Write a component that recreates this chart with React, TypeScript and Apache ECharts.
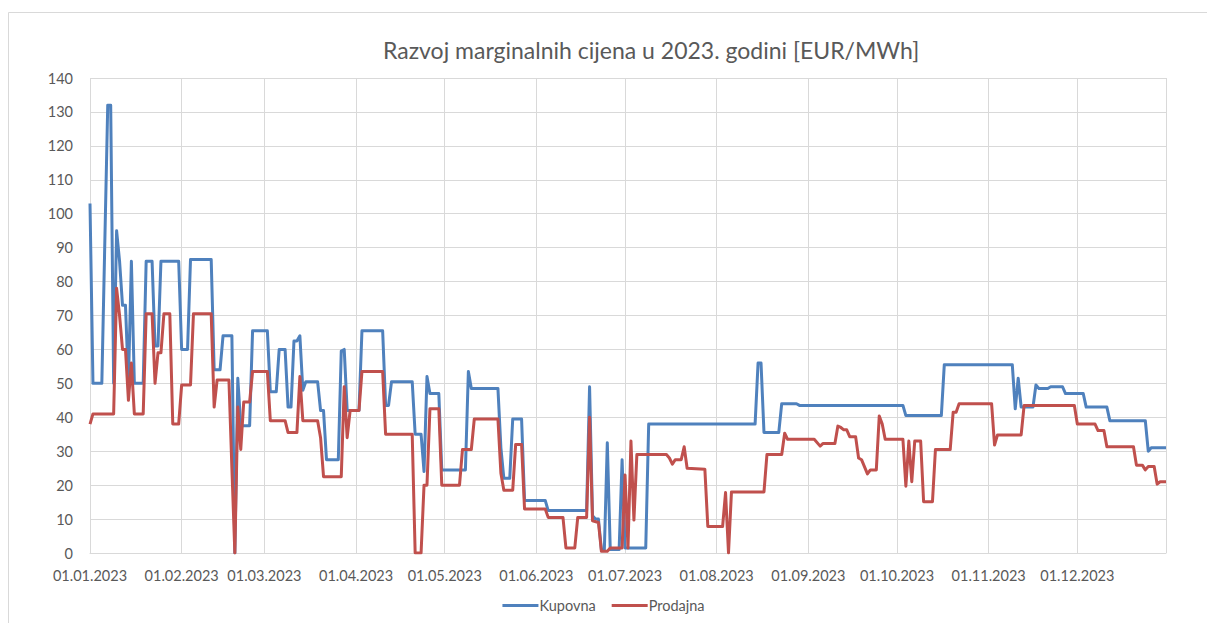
import React, { useEffect, useRef } from "react";
import * as echarts from "echarts";

const TITLE = "Razvoj marginalnih cijena u 2023. godini [EUR/MWh]";
const SERIES_NAMES = ["Kupovna", "Prodajna"];
const YEAR_START = Date.UTC(2023, 0, 1);
const YEAR_END = Date.UTC(2023, 11, 31);
const DAY_MS = 86400000;

// [day of year (0 = 01.01.2023), price EUR/MWh] at each change of the daily series
const kupovna: [number, number][] = [
  [0, 103], [1, 50], [4, 50], [6, 132], [7, 132], [8, 50], [9, 95], [10, 86], [11, 73], [12, 73],
  [13, 50], [14, 86], [15, 50], [18, 50], [19, 86], [21, 86], [22, 61], [23, 61], [24, 86], [30, 86],
  [31, 60], [33, 60], [34, 86.5], [41, 86.5], [42, 54], [44, 54], [45, 64], [48, 64], [49, 0], [50, 51.5],
  [51, 37.5], [54, 37.5], [55, 65.5], [60, 65.5], [61, 47.5], [63, 47.5], [64, 60], [66, 60], [67, 43], [68, 43],
  [69, 62.5], [70, 62.5], [71, 64], [72, 48], [73, 50.5], [77, 50.5], [78, 42], [79, 42], [80, 27.5], [84, 27.5],
  [85, 59.5], [86, 60], [87, 42], [91, 42], [92, 65.5], [99, 65.5], [100, 43.5], [101, 43.5], [102, 50.5], [109, 50.5],
  [110, 35], [112, 35], [113, 24], [114, 52], [115, 47], [118, 47], [119, 24.5], [127, 24.5], [128, 53.5], [129, 48.5],
  [138, 48.5], [139, 31], [140, 22], [142, 22], [143, 39.5], [146, 39.5], [147, 15.5], [154, 15.5], [155, 12.5], [168, 12.5],
  [169, 49], [170, 11], [171, 10], [172, 10], [173, 1], [174, 1], [175, 32.5], [176, 1], [179, 1], [180, 27.5],
  [181, 1.5], [188, 1.5], [189, 38], [225, 38], [226, 56], [227, 56], [228, 35.5], [233, 35.5], [234, 44], [239, 44],
  [240, 43.5], [275, 43.5], [276, 40.5], [288, 40.5], [289, 55.5], [312, 55.5], [313, 42.5], [314, 51.5], [315, 43], [319, 43],
  [320, 49.5], [321, 48.5], [324, 48.5], [325, 49], [329, 49], [330, 47], [336, 47], [337, 43], [344, 43], [345, 39],
  [357, 39], [358, 30], [359, 31], [364, 31],
];

const prodajna: [number, number][] = [
  [0, 38], [1, 41], [8, 41], [9, 78], [10, 70], [11, 60], [12, 60], [13, 45], [14, 56], [15, 41],
  [18, 41], [19, 70.5], [21, 70.5], [22, 50], [23, 59], [24, 59], [25, 70.5], [27, 70.5], [28, 38], [30, 38],
  [31, 49.5], [34, 49.5], [35, 70.5], [41, 70.5], [42, 43], [43, 51], [47, 51], [48, 25], [49, 0], [50, 43],
  [51, 30.5], [52, 44.5], [54, 44.5], [55, 53.5], [60, 53.5], [61, 39], [66, 39], [67, 35.5], [70, 35.5], [71, 52],
  [72, 39], [77, 39], [78, 34], [79, 22.5], [85, 22.5], [86, 49], [87, 34], [88, 42], [91, 42], [92, 53.5],
  [99, 53.5], [100, 35], [109, 35], [110, 0], [112, 0], [113, 20], [114, 20], [115, 42.5], [118, 42.5], [119, 20],
  [125, 20], [126, 30.5], [129, 30.5], [130, 39.5], [138, 39.5], [139, 23.5], [140, 18.5], [143, 18.5], [144, 32], [146, 32],
  [147, 13], [154, 13], [155, 10.5], [160, 10.5], [161, 1.5], [164, 1.5], [165, 10.5], [168, 10.5], [169, 40], [170, 9.5],
  [172, 9], [173, 0.5], [175, 0.5], [176, 1.5], [180, 1.5], [181, 23], [182, 1.5], [183, 33], [184, 9.7], [185, 29],
  [195, 29], [196, 28], [197, 26.2], [198, 27.5], [200, 27.5], [201, 31.3], [202, 25], [208, 24.7], [209, 7.8], [214, 7.8],
  [215, 17.8], [216, 0], [217, 18], [228, 18], [229, 29], [234, 29], [235, 35.3], [236, 33.5], [245, 33.5], [247, 31.5],
  [248, 32.3], [252, 32.3], [253, 37.4], [254, 37], [255, 36.3], [256, 36.3], [257, 34.3], [259, 34.3], [260, 28], [261, 27.5],
  [263, 23.3], [264, 24.5], [266, 24.5], [267, 40.4], [268, 38], [269, 33.5], [275, 33.5], [276, 19.7], [277, 33], [278, 21],
  [279, 33], [281, 33], [282, 15.1], [285, 15.1], [286, 30.5], [291, 30.5], [292, 41.5], [293, 41.5], [294, 44], [305, 44],
  [306, 31.8], [307, 34.8], [315, 34.8], [316, 43.5], [333, 43.5], [334, 38], [340, 38], [341, 36.1], [343, 36.1], [344, 31.3],
  [353, 31.3], [354, 25.9], [356, 25.9], [357, 24.5], [358, 25.5], [360, 25.5], [361, 20.3], [362, 21], [364, 21],
];

const toSeries = (pts: [number, number][]) => pts.map(([d, v]) => [YEAR_START + d * DAY_MS, v]);
const pad = (n: number) => (n < 10 ? "0" + n : "" + n);

export default function App() {
  const ref = useRef<HTMLDivElement>(null);
  useEffect(() => {
    if (!ref.current) return;
    const chart = echarts.init(ref.current, undefined, { renderer: "svg" });
    const FONT = "Lato, 'Open Sans', sans-serif";
    const GRAY = "#595959";
    chart.setOption({
      animation: false,
      useUTC: true,
      backgroundColor: "#ffffff",
      textStyle: { fontFamily: FONT },
      title: {
        text: TITLE,
        left: 378,
        top: 33,
        textStyle: { fontFamily: FONT, fontSize: 23, fontWeight: "normal", color: GRAY },
      },
      graphic: [
        {
          type: "rect",
          shape: { x: 8.5, y: 12.5, width: 1220, height: 700 },
          style: { fill: "none", stroke: "#d9d9d9", lineWidth: 1 },
          silent: true,
        },
      ],
      legend: {
        bottom: 5,
        left: "center",
        icon: "rect",
        itemWidth: 36,
        itemHeight: 3,
        itemGap: 16,
        textStyle: { fontFamily: FONT, fontSize: 14.5, color: GRAY, padding: [0, 0, 0, -4] },
        data: SERIES_NAMES,
      },
      grid: { left: 90, right: 41, top: 78, bottom: 70, containLabel: false },
      xAxis: {
        type: "time",
        min: YEAR_START,
        max: YEAR_END,
        minInterval: 28 * DAY_MS,
        maxInterval: 31 * DAY_MS,
        axisLine: { show: true, lineStyle: { color: "#d9d9d9" } },
        axisTick: { show: false },
        splitLine: { show: true, lineStyle: { color: "#d9d9d9", width: 1 } },
        axisLabel: {
          margin: 15,
          fontSize: 14.5,
          color: GRAY,
          hideOverlap: false,
          formatter: (value: number) => {
            const d = new Date(value);
            if (d.getUTCDate() !== 1) return "";
            return pad(d.getUTCDate()) + "." + pad(d.getUTCMonth() + 1) + "." + d.getUTCFullYear();
          },
        },
      },
      yAxis: {
        type: "value",
        min: 0,
        max: 140,
        interval: 10,
        axisLine: { show: false },
        axisTick: { show: false },
        splitLine: { show: true, lineStyle: { color: "#d9d9d9", width: 1 } },
        axisLabel: { margin: 17, fontSize: 14.5, color: GRAY },
      },
      series: [
        {
          name: SERIES_NAMES[0],
          type: "line",
          data: toSeries(kupovna),
          symbol: "none",
          lineStyle: { color: "#4F81BD", width: 3, join: "round" },
          itemStyle: { color: "#4F81BD" },
        },
        {
          name: SERIES_NAMES[1],
          type: "line",
          data: toSeries(prodajna),
          symbol: "none",
          lineStyle: { color: "#C0504D", width: 3, join: "round" },
          itemStyle: { color: "#C0504D" },
        },
      ],
    });
    return () => chart.dispose();
  }, []);
  return (
    <div
      ref={ref}
      style={{ position: "fixed", left: 0, top: 0, width: 1207, height: 623 }}
    />
  );
}
